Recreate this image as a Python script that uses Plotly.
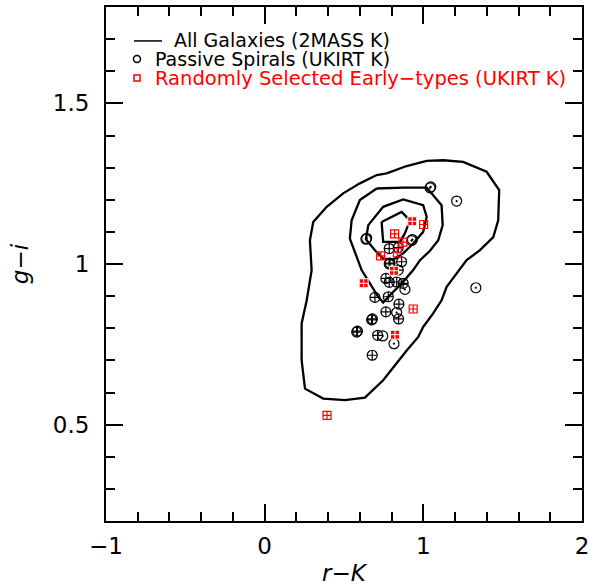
import plotly.graph_objects as go

# ---------------- data ----------------
# Contours of all galaxies (2MASS K), closed polygons, r-K vs g-i
outer_x = [0.769, 0.895, 1.021, 1.125, 1.251, 1.399, 1.478, 1.472, 1.441, 1.357, 1.273, 1.210,
           1.147, 1.115, 1.062, 0.999, 0.968, 0.895, 0.832, 0.747, 0.632, 0.506, 0.369, 0.254,
           0.233, 0.233, 0.265, 0.296, 0.285, 0.306, 0.391, 0.495, 0.600, 0.706, 0.769]
outer_y = [1.282, 1.305, 1.321, 1.323, 1.318, 1.287, 1.230, 1.136, 1.084, 1.043, 1.012, 0.970,
           0.929, 0.887, 0.846, 0.804, 0.773, 0.731, 0.690, 0.638, 0.584, 0.576, 0.581, 0.612,
           0.700, 0.815, 0.887, 0.981, 1.074, 1.131, 1.178, 1.220, 1.251, 1.277, 1.282]

mid_x = [0.706, 0.873, 1.021, 1.115, 1.122, 1.094, 1.042, 0.979, 0.936, 0.863, 0.800, 0.747,
         0.716, 0.664, 0.611, 0.580, 0.537, 0.548, 0.600, 0.706]
mid_y = [1.235, 1.238, 1.238, 1.183, 1.121, 1.074, 1.041, 1.012, 0.981, 0.939, 0.908, 0.880,
         0.898, 0.939, 0.981, 1.022, 1.079, 1.136, 1.199, 1.235]

inner_x = [0.638, 0.653, 0.747, 0.873, 0.999, 1.021, 0.999, 0.936, 0.873, 0.810, 0.747, 0.695, 0.638]
inner_y = [1.077, 1.121, 1.178, 1.201, 1.183, 1.147, 1.100, 1.064, 1.033, 1.014, 1.017, 1.043, 1.077]

core_x = [0.737, 0.863, 0.916, 0.884, 0.853, 0.747, 0.737]
core_y = [1.131, 1.162, 1.136, 1.096, 1.069, 1.069, 1.131]

# Passive spirals (UKIRT K): small-error points (circle with dot)
spiral_dot_x = [1.042, 1.047, 1.210, 0.638, 0.643, 0.926, 0.931, 0.884, 1.331, 0.832, 0.744, 0.815]
spiral_dot_y = [1.237, 1.240, 1.196, 1.077, 1.080, 1.073, 1.076, 0.921, 0.926, 0.849, 0.776, 0.752]
# Passive spirals (UKIRT K): larger-error points (circle with cross)
spiral_cross_x = [0.785, 0.842, 0.863, 0.785, 0.790, 0.842, 0.764, 0.785, 0.832, 0.873, 0.695,
                  0.779, 0.846, 0.764, 0.844, 0.674, 0.679, 0.580, 0.585, 0.712, 0.678]
spiral_cross_y = [1.048, 1.051, 1.007, 1.000, 1.003, 0.981, 0.955, 0.943, 0.944, 0.940, 0.896,
                  0.898, 0.875, 0.851, 0.829, 0.826, 0.829, 0.788, 0.791, 0.778, 0.716]

# Randomly selected early-types (UKIRT K)
early_open_x = [1.002, 0.819, 0.871, 0.836, 0.731, 0.936, 0.393]
early_open_y = [1.123, 1.094, 1.068, 1.035, 1.025, 0.860, 0.529]
early_solid_x = [0.930, 0.815, 0.624, 0.821]
early_solid_y = [1.133, 0.979, 0.940, 0.780]

legend_labels = ["All Galaxies (2MASS K)", "Passive Spirals (UKIRT K)",
                 "Randomly Selected Early\u2212types (UKIRT K)"]
x_title = "<i>r\u2212K</i>"
y_title = "<i>g\u2212i</i>"

# ---------------- figure ----------------
FONT = "DejaVu Sans"
fig = go.Figure()

for cx, cy in [(outer_x, outer_y), (mid_x, mid_y), (inner_x, inner_y), (core_x, core_y)]:
    fig.add_trace(go.Scatter(x=cx, y=cy, mode="lines",
                             line=dict(color="black", width=2.3),
                             showlegend=False, hoverinfo="skip"))

fig.add_trace(go.Scatter(x=spiral_cross_x, y=spiral_cross_y, mode="markers",
                         marker=dict(symbol="circle-cross-open", size=10, color="black",
                                     line=dict(width=1.2, color="black")),
                         showlegend=False))
fig.add_trace(go.Scatter(x=spiral_dot_x, y=spiral_dot_y, mode="markers",
                         marker=dict(symbol="circle-open-dot", size=10, color="black",
                                     line=dict(width=1.2, color="black")),
                         showlegend=False))
fig.add_trace(go.Scatter(x=early_open_x, y=early_open_y, mode="markers",
                         marker=dict(symbol="square-cross-open", size=8, color="red",
                                     line=dict(width=1.2, color="red")),
                         showlegend=False))
fig.add_trace(go.Scatter(x=early_solid_x, y=early_solid_y, mode="markers",
                         marker=dict(symbol="square-cross", size=9, color="red",
                                     line=dict(width=1, color="white")),
                         showlegend=False))

# ---------------- manual legend ----------------
shapes = [
    dict(type="line", xref="paper", yref="paper", x0=0.0588, x1=0.1176, y0=0.934, y1=0.934,
         line=dict(color="black", width=1.5)),
    dict(type="circle", xref="paper", yref="paper", xsizemode="pixel", ysizemode="pixel",
         xanchor=0.0651, yanchor=0.899, x0=-3.5, x1=3.5, y0=-3.5, y1=3.5,
         line=dict(color="black", width=1.5)),
    dict(type="rect", xref="paper", yref="paper", xsizemode="pixel", ysizemode="pixel",
         xanchor=0.0651, yanchor=0.862, x0=-3, x1=3, y0=-3, y1=3,
         line=dict(color="red", width=1.5)),
]
annotations = [
    dict(text=legend_labels[0], x=0.1387, y=0.936, xref="paper", yref="paper",
         xanchor="left", yanchor="middle", showarrow=False,
         font=dict(family=FONT, size=19, color="black")),
    dict(text=legend_labels[1], x=0.0987, y=0.899, xref="paper", yref="paper",
         xanchor="left", yanchor="middle", showarrow=False,
         font=dict(family=FONT, size=19, color="black")),
    dict(text=legend_labels[2], x=0.0987, y=0.861, xref="paper", yref="paper",
         xanchor="left", yanchor="middle", showarrow=False,
         font=dict(family=FONT, size=19.5, color="red")),
]

axis_common = dict(showline=True, linecolor="black", linewidth=2, mirror="ticks",
                   ticks="inside", ticklen=17, tickwidth=2, tickcolor="black",
                   showgrid=False, zeroline=False, automargin=False,
                   tickfont=dict(family=FONT, size=23, color="black"))

fig.update_layout(
    width=590, height=586,
    margin=dict(l=106, r=8, t=7, b=65),
    paper_bgcolor="white", plot_bgcolor="white",
    shapes=shapes, annotations=annotations,
    xaxis=dict(range=[-1, 2], tickvals=[-1, 0, 1, 2], ticklabelstandoff=3,
               minor=dict(dtick=0.2, ticks="inside", ticklen=9, tickwidth=2, tickcolor="black",
                          showgrid=False),
               title=dict(text=x_title, font=dict(family=FONT, size=23, color="black"), standoff=12),
               **axis_common),
    yaxis=dict(range=[0.2, 1.8], tickvals=[0.5, 1, 1.5], ticktext=["0.5", "1", "1.5"],
               ticklabelstandoff=10,
               minor=dict(dtick=0.1, ticks="inside", ticklen=9, tickwidth=2, tickcolor="black",
                          showgrid=False),
               title=dict(text=y_title, font=dict(family=FONT, size=23, color="black"), standoff=18),
               **axis_common),
    showlegend=False,
)

fig.write_html("out.html", config={"displayModeBar": False},
               post_script="document.body.style.margin='0px';document.body.style.overflow='hidden';")
